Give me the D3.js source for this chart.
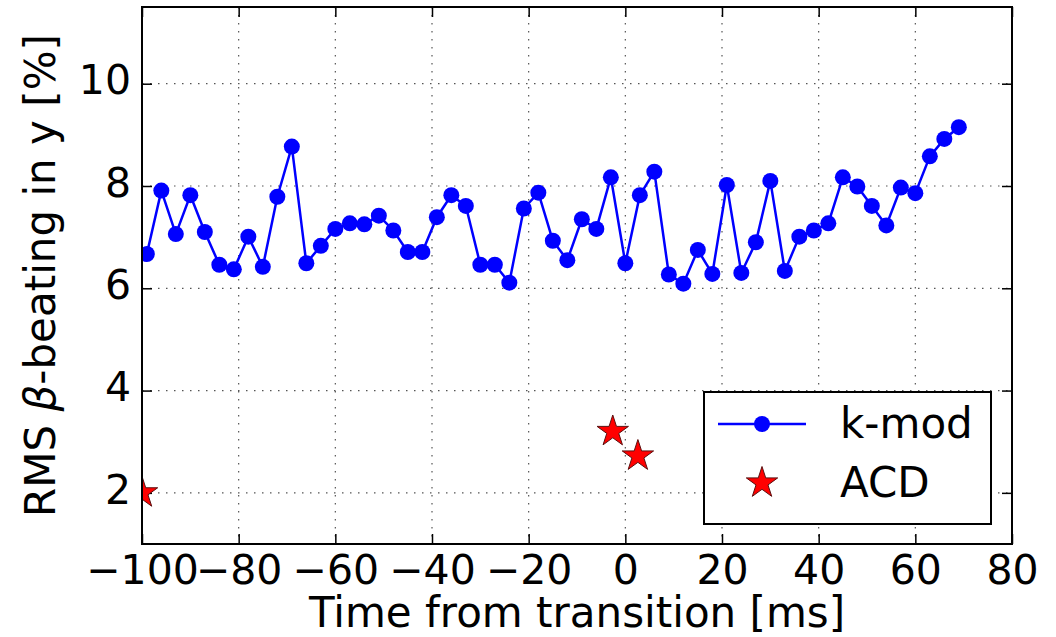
<!DOCTYPE html>
<meta charset="utf-8">
<script src="https://d3js.org/d3.v7.min.js"></script>
<style>
  body { margin: 0; background: #fff; }
  text { font-family: "DejaVu Sans", sans-serif; fill: #000; }
</style>
<div id="my_dataviz"></div>
<script>

// k-mod measurements (time in ms, RMS beta-beating in %)
var kmodTime = [-99, -96, -93, -90, -87, -84, -81, -78, -75, -72, -69, -66, -63, -60, -57, -54, -51, -48, -45, -42,
                -39, -36, -33, -30, -27, -24, -21, -18, -15, -12, -9, -6, -3, 0, 3, 6, 9, 12, 15, 18,
                21, 24, 27, 30, 33, 36, 39, 42, 45, 48, 51, 54, 57, 60, 63, 66, 69];
var kmodValue = [6.67, 7.91, 7.06, 7.82, 7.10, 6.46, 6.37, 7.01, 6.42, 7.79, 8.77, 6.49, 6.83, 7.16, 7.27, 7.25, 7.42, 7.13, 6.71, 6.71,
                 7.39, 7.82, 7.61, 6.46, 6.46, 6.11, 7.56, 7.87, 6.93, 6.55, 7.35, 7.16, 8.17, 6.49, 7.82, 8.28, 6.27, 6.09, 6.75, 6.28,
                 8.02, 6.30, 6.90, 8.10, 6.34, 7.01, 7.13, 7.27, 8.17, 7.99, 7.61, 7.23, 7.97, 7.86, 8.58, 8.92, 9.15];

// ACD measurements
var acdTime = [-100, -2.6, 2.6];
var acdValue = [2.0, 3.2, 2.72];

var xTicks = [-100, -80, -60, -40, -20, 0, 20, 40, 60, 80];
var yTicks = [2, 4, 6, 8, 10];
var legendLabels = ["k-mod", "ACD"];

// dimensions
var margin = {top: 7, right: 44, bottom: 93, left: 142},
    width = 1056 - margin.left - margin.right,
    height = 637 - margin.top - margin.bottom;

var svg = d3.select("#my_dataviz")
  .append("svg")
    .attr("width", 1056)
    .attr("height", 637)
  .append("g")
    .attr("transform", "translate(" + margin.left + "," + margin.top + ")");

var x = d3.scaleLinear().domain([-100, 80]).range([0, width]);
var y = d3.scaleLinear().domain([1, 11.5]).range([height, 0]);

svg.append("clipPath").attr("id", "clip")
  .append("rect").attr("width", width).attr("height", height);

// grid
svg.append("g").selectAll("line")
  .data(xTicks.slice(1, -1))
  .enter().append("line")
    .attr("x1", function(d) { return x(d); })
    .attr("x2", function(d) { return x(d); })
    .attr("y1", 0).attr("y2", height)
    .attr("stroke", "#555").attr("stroke-width", 1.2)
    .attr("stroke-dasharray", "1.5,6.5");
svg.append("g").selectAll("line")
  .data(yTicks)
  .enter().append("line")
    .attr("y1", function(d) { return y(d); })
    .attr("y2", function(d) { return y(d); })
    .attr("x1", 0).attr("x2", width)
    .attr("stroke", "#555").attr("stroke-width", 1.2)
    .attr("stroke-dasharray", "1.5,6.5");

// axes (ticks pointing inward, on all four sides)
function styleAxis(g) {
  g.select(".domain").remove();
  g.selectAll(".tick line").attr("stroke", "#000").attr("stroke-width", 1.5);
  g.selectAll(".tick text").style("font-size", "41px").attr("fill", "#000");
}
var fmt = function(d) { return d < 0 ? "\u2212" + Math.abs(d) : d; };

svg.append("g")
    .attr("transform", "translate(0," + height + ")")
    .call(d3.axisBottom(x).tickValues(xTicks).tickFormat(fmt).tickSizeInner(-10).tickPadding(8))
    .call(styleAxis)
    .selectAll(".tick text").attr("y", 40).attr("dy", null);
svg.append("g")
    .call(d3.axisTop(x).tickValues(xTicks).tickFormat("").tickSizeInner(-10))
    .call(styleAxis);
svg.append("g")
    .call(d3.axisLeft(y).tickValues(yTicks).tickSizeInner(-10))
    .call(styleAxis)
    .selectAll(".tick text").attr("x", -11).attr("dy", "0.25em");
svg.append("g")
    .attr("transform", "translate(" + width + ",0)")
    .call(d3.axisRight(y).tickValues(yTicks).tickFormat("").tickSizeInner(-10))
    .call(styleAxis);

// k-mod line + markers
var kmod = kmodTime.map(function(t, i) { return [t, kmodValue[i]]; });
var plot = svg.append("g").attr("clip-path", "url(#clip)");
plot.append("path")
    .datum(kmod)
    .attr("fill", "none")
    .attr("stroke", "#0000ff")
    .attr("stroke-width", 2.5)
    .attr("d", d3.line().x(function(d) { return x(d[0]); }).y(function(d) { return y(d[1]); }));
plot.selectAll("circle")
    .data(kmod)
    .enter().append("circle")
      .attr("cx", function(d) { return x(d[0]); })
      .attr("cy", function(d) { return y(d[1]); })
      .attr("r", 8)
      .attr("fill", "#0000ff");

// ACD stars
var star = d3.symbol().type(d3.symbolStar).size(16.5 * 16.5 / 0.8908);
plot.selectAll(".acd")
    .data(acdTime.map(function(t, i) { return [t, acdValue[i]]; }))
    .enter().append("path")
      .attr("class", "acd")
      .attr("d", star)
      .attr("transform", function(d) { return "translate(" + x(d[0]) + "," + y(d[1]) + ")"; })
      .attr("fill", "#ff0000")
      .attr("stroke", "#5a1010")
      .attr("stroke-width", 1);

// frame
svg.append("rect")
    .attr("width", width).attr("height", height)
    .attr("fill", "none").attr("stroke", "#000").attr("stroke-width", 2);

// axis labels
svg.append("text")
    .attr("text-anchor", "middle")
    .attr("x", width / 2)
    .attr("y", height + 83)
    .style("font-size", "42px")
    .text("Time from transition [ms]");

var ylab = svg.append("text")
    .attr("text-anchor", "middle")
    .attr("transform", "translate(" + (55 - margin.left) + "," + (height / 2) + ") rotate(-90)")
    .style("font-size", "42px");
ylab.append("tspan").text("RMS ");
ylab.append("tspan").style("font-style", "italic").text("\u03b2");
ylab.append("tspan").text("-beating in y [%]");

// legend
var lg = svg.append("g").attr("transform", "translate(" + (704 - margin.left) + "," + (392 - margin.top) + ")");
lg.append("rect")
    .attr("width", 287).attr("height", 132)
    .attr("fill", "#fff").attr("stroke", "#000").attr("stroke-width", 2);
lg.append("line")
    .attr("x1", 14).attr("x2", 102).attr("y1", 32).attr("y2", 32)
    .attr("stroke", "#0000ff").attr("stroke-width", 2.5);
lg.append("circle").attr("cx", 58).attr("cy", 32).attr("r", 8).attr("fill", "#0000ff");
lg.append("path")
    .attr("d", star)
    .attr("transform", "translate(58,91)")
    .attr("fill", "#ff0000").attr("stroke", "#5a1010").attr("stroke-width", 1);
lg.selectAll(".lbl")
    .data(legendLabels)
    .enter().append("text")
      .attr("class", "lbl")
      .attr("x", 136)
      .attr("y", function(d, i) { return 46 + i * 59; })
      .style("font-size", "42px")
      .text(function(d) { return d; });

</script>
